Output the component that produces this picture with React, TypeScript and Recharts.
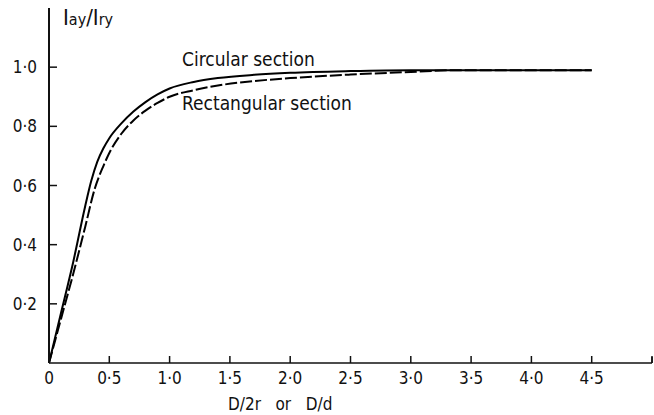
import React from "react";
import { LineChart, Line, XAxis, YAxis } from "recharts";

// D/2r (circular) or D/d (rectangular) against Iay/Iry
const circularX = [0, 0.1, 0.2, 0.3, 0.35, 0.4, 0.45, 0.5, 0.6, 0.7, 0.8, 0.9, 1.0, 1.2, 1.4, 1.7, 2.0, 2.5, 3.0, 4.5];
const circularY = [0, 0.17, 0.34, 0.53, 0.615, 0.68, 0.725, 0.76, 0.81, 0.85, 0.882, 0.908, 0.928, 0.95, 0.963, 0.974, 0.981, 0.987, 0.99, 0.99];
const rectX = [0, 0.1, 0.2, 0.3, 0.38, 0.45, 0.5, 0.6, 0.7, 0.8, 0.9, 1.0, 1.2, 1.4, 1.7, 2.0, 2.5, 3.0, 3.4, 4.5];
const rectY = [0, 0.15, 0.3, 0.46, 0.59, 0.665, 0.71, 0.775, 0.82, 0.853, 0.879, 0.9, 0.922, 0.938, 0.953, 0.963, 0.975, 0.984, 0.99, 0.99];

const xTicks = [0, 0.5, 1, 1.5, 2, 2.5, 3, 3.5, 4, 4.5, 5];
const yTicks = [0.2, 0.4, 0.6, 0.8, 1.0];

const circular = circularX.map((x, i) => ({ x, y: circularY[i] }));
const rectangular = rectX.map((x, i) => ({ x, y: rectY[i] }));

const FONT = "'Liberation Sans Narrow', 'DejaVu Sans Condensed', 'Arial Narrow', sans-serif";

const fmt = (v: number) => (v === 0 ? "0" : v >= 5 ? "" : v.toFixed(1).replace(".", "·"));

const XTick = (props: any) => {
  const { x, y, payload } = props;
  const v = payload.value;
  return (
    <g>
      {v > 0 && <line x1={x} y1={y} x2={x} y2={y - 7} stroke="#111" strokeWidth={1.5} />}
      <text x={x} y={y + 21} textAnchor="middle" fontFamily={FONT} fontSize={17} fill="#111">
        {fmt(v)}
      </text>
    </g>
  );
};

const YTick = (props: any) => {
  const { x, y, payload } = props;
  return (
    <g>
      <line x1={x} y1={y} x2={x + 8} y2={y} stroke="#111" strokeWidth={1.5} />
      <text x={x - 12} y={y + 6} textAnchor="end" fontFamily={FONT} fontSize={17} fill="#111">
        {fmt(payload.value)}
      </text>
    </g>
  );
};

const label: React.CSSProperties = {
  position: "absolute",
  fontFamily: FONT,
  fontSize: 19,
  color: "#111",
  whiteSpace: "pre",
  lineHeight: 1,
};

export default function App() {
  return (
    <div style={{ position: "absolute", left: 0, top: 0, width: 654, height: 415, background: "#fff" }}>
      <LineChart width={654} height={415} margin={{ top: 8, right: 2, left: 0, bottom: 0 }}>
        <XAxis
          type="number"
          dataKey="x"
          domain={[0, 5]}
          ticks={xTicks}
          interval={0}
          height={52}
          tickSize={0}
          tickMargin={0}
          tick={<XTick />}
          axisLine={{ stroke: "#111", strokeWidth: 1.5 }}
          allowDataOverflow
        />
        <YAxis
          type="number"
          domain={[0, 1.2]}
          ticks={yTicks}
          interval={0}
          width={49}
          tickSize={0}
          tickMargin={0}
          tick={<YTick />}
          axisLine={{ stroke: "#111", strokeWidth: 2 }}
        />
        <Line
          data={circular}
          dataKey="y"
          type="monotone"
          stroke="#000"
          strokeWidth={2}
          dot={false}
          isAnimationActive={false}
        />
        <Line
          data={rectangular}
          dataKey="y"
          type="monotone"
          stroke="#000"
          strokeWidth={2}
          strokeDasharray="12 3"
          dot={false}
          isAnimationActive={false}
        />
      </LineChart>
      <svg width={654} height={415} style={{ position: "absolute", left: 0, top: 0, pointerEvents: "none" }}>
        <line x1={652} y1={363} x2={652} y2={357} stroke="#111" strokeWidth={1.5} />
      </svg>
      <div style={{ ...label, left: 63, top: 7, fontSize: 22 }}>
        I<span style={{ fontSize: 16 }}>ay</span>/I<span style={{ fontSize: 16 }}>ry</span>
      </div>
      <div style={{ ...label, left: 182, top: 50 }}>Circular section</div>
      <div style={{ ...label, left: 182, top: 94 }}>Rectangular section</div>
      <div style={{ ...label, left: 228, top: 396, fontSize: 17 }}>{"D/2r   or   D/d"}</div>
    </div>
  );
}
